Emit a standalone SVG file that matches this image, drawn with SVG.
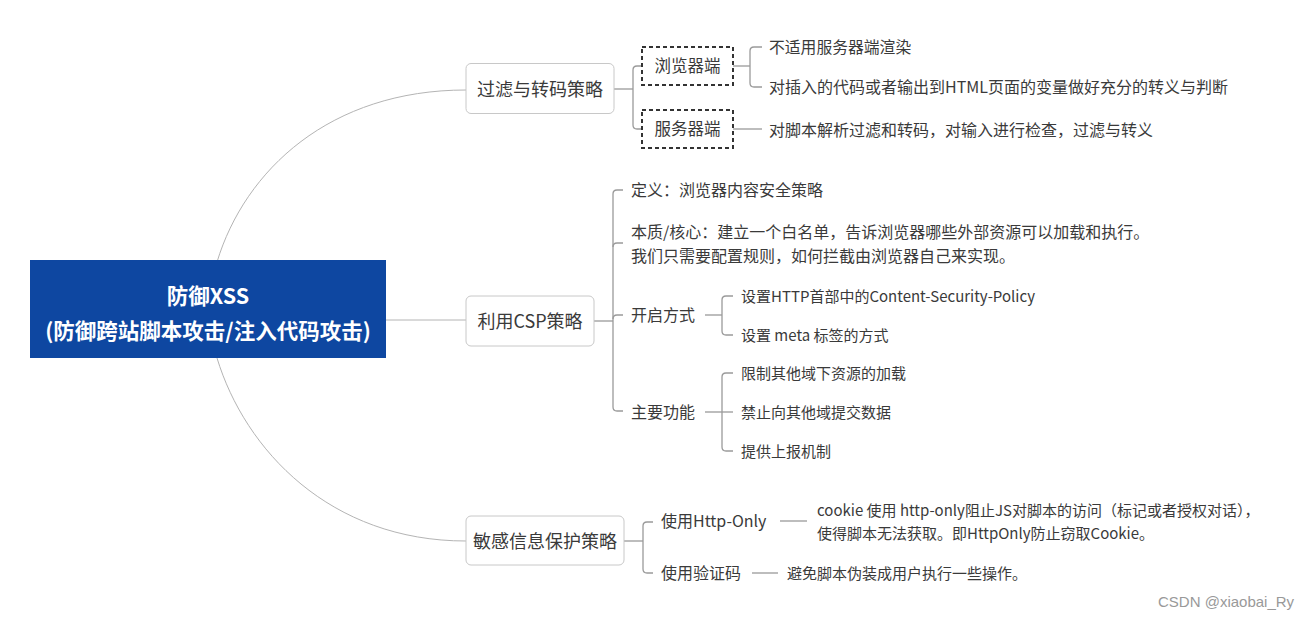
<svg xmlns="http://www.w3.org/2000/svg" width="1308" height="618" viewBox="0 0 1308 618">
<style>
text{font-family:"Noto Sans CJK SC","Microsoft YaHei","Noto Sans",sans-serif;fill:#3a3a3a;dominant-baseline:central}
.root{fill:#0e47a1}
.rt{fill:#fff;font-weight:600;font-size:21.5px;text-anchor:middle}
.l1{fill:#fff;stroke:#c8c8c8;stroke-width:1}
.t1{font-size:18px;text-anchor:middle}
.dash{fill:#fff;stroke:#333;stroke-width:2;stroke-dasharray:4 3}
.t2{font-size:16px}
.t3{font-size:15px}
.c{fill:none;stroke:#9a9a9a;stroke-width:1.3}
.cr{fill:none;stroke:#b4b4b4;stroke-width:1}
.wm{font-family:"Liberation Sans",Arial,sans-serif;font-size:15px;fill:#999}
</style>
<rect width="1308" height="618" fill="#fff"/>
<g id="connectors">
<path class="cr" d="M217,262 C245,170 330,90 466,90"/>
<path class="cr" d="M386,320 H466"/>
<path class="cr" d="M217,358 C245,450 330,541 466,541"/>
<path class="c" d="M614,89 H633"/>
<path class="c" d="M642,66 H637 Q633,66 633,70 V125 Q633,129 637,129 H642"/>
<path class="c" d="M733,66 H750"/>
<path class="c" d="M762,47 H754 Q750,47 750,51 V83 Q750,87 754,87 H762"/>
<path class="c" d="M733,129 H762"/>
<path class="c" d="M594,321 H613"/>
<path class="c" d="M623,190 H617 Q613,190 613,194 V407 Q613,411 617,411 H623"/>
<path class="c" d="M613,247 Q613,243 617,243 H623"/>
<path class="c" d="M613,319 Q613,315 617,315 H623"/>
<path class="c" d="M705,315 H722"/>
<path class="c" d="M733,296 H726 Q722,296 722,300 V331 Q722,335 726,335 H733"/>
<path class="c" d="M705,412 H733"/>
<path class="c" d="M733,373 H726 Q722,373 722,377 V447 Q722,451 726,451 H733"/>
<path class="c" d="M624,541 H643"/>
<path class="c" d="M653,522 H647 Q643,522 643,526 V569 Q643,573 647,573 H653"/>
<path class="c" d="M780,521 H807"/>
<path class="c" d="M752,573 H778"/>
</g>
<g id="root">
<rect class="root" x="30" y="260" width="356" height="98"/>
<text class="rt" x="208" y="294">防御XSS</text>
<text class="rt" x="208" y="329">(防御跨站脚本攻击/注入代码攻击)</text>
</g>
<g id="filter">
<rect class="l1" x="466" y="63.5" width="148" height="50" rx="5"/>
<text class="t1" x="540" y="88">过滤与转码策略</text>
</g>
<g id="browser">
<rect class="dash" x="642" y="47" width="91" height="38"/>
<text class="t2" x="687.5" y="65" text-anchor="middle" style="font-size:16.5px">浏览器端</text>
</g>
<g id="server">
<rect class="dash" x="642" y="110" width="91" height="38"/>
<text class="t2" x="687.5" y="128" text-anchor="middle" style="font-size:16.5px">服务器端</text>
</g>
<g id="b1"><text class="t2" x="769" y="46" style="font-size:15.8px">不适用服务器端渲染</text></g>
<g id="b2"><text class="t2" x="769" y="86">对插入的代码或者输出到HTML页面的变量做好充分的转义与判断</text></g>
<g id="s1"><text class="t2" x="769" y="129">对脚本解析过滤和转码，对输入进行检查，过滤与转义</text></g>
<g id="csp">
<rect class="l1" x="466" y="296" width="128" height="50" rx="5"/>
<text class="t1" x="530" y="320">利用CSP策略</text>
</g>
<g id="def"><text class="t2" x="631" y="189">定义：浏览器内容安全策略</text></g>
<g id="essence">
<text class="t2" x="631" y="231">本质/核心：建立一个白名单，告诉浏览器哪些外部资源可以加载和执行。</text>
<text class="t2" x="631" y="255">我们只需要配置规则，如何拦截由浏览器自己来实现。</text>
</g>
<g id="enable"><text class="t2" x="631" y="314">开启方式</text></g>
<g id="e1"><text class="t3" x="741" y="295">设置HTTP首部中的Content-Security-Policy</text></g>
<g id="e2"><text class="t3" x="741" y="334">设置 meta 标签的方式</text></g>
<g id="func"><text class="t2" x="631" y="411">主要功能</text></g>
<g id="f1"><text class="t3" x="741" y="372">限制其他域下资源的加载</text></g>
<g id="f2"><text class="t3" x="741" y="411">禁止向其他域提交数据</text></g>
<g id="f3"><text class="t3" x="741" y="450">提供上报机制</text></g>
<g id="sensitive">
<rect class="l1" x="466" y="516" width="158" height="49" rx="5"/>
<text class="t1" x="545" y="540">敏感信息保护策略</text>
</g>
<g id="httponly"><text class="t2" x="661" y="520">使用Http-Only</text></g>
<g id="h1">
<text class="t3" x="817" y="509">cookie 使用 http-only阻止JS对脚本的访问（标记或者授权对话），</text>
<text class="t3" x="817" y="532">使得脚本无法获取。即HttpOnly防止窃取Cookie。</text>
</g>
<g id="captcha"><text class="t2" x="661" y="572">使用验证码</text></g>
<g id="c1"><text class="t3" x="787" y="572">避免脚本伪装成用户执行一些操作。</text></g>
<text class="wm" x="1158" y="601">CSDN @xiaobai_Ry</text>
</svg>
